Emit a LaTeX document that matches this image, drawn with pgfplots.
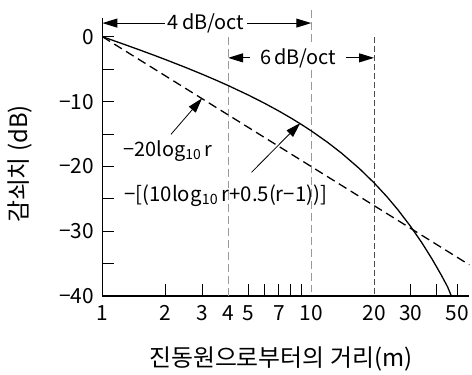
\documentclass[border=0pt]{standalone}
\usepackage{fontspec}
\setmainfont{Noto Sans CJK KR}
\usepackage{pgfplots}
\pgfplotsset{compat=1.18}
\usetikzlibrary{arrows.meta}
\begin{document}
\begin{tikzpicture}
\path (-103pt,-75pt) rectangle (369pt,298pt);
\begin{axis}[
  at={(0,0)}, anchor=south west,
  scale only axis, width=369pt, height=280pt,
  xmode=log, xmin=1, xmax=57.2, ymin=-40, ymax=2.9,
  axis x line*=bottom, axis y line*=left,
  axis line style={line width=1.6pt},
  clip=false,
  tick align=inside,
  major tick length=12pt, minor tick length=12pt,
  tick style={black, line width=1pt},
  xtick={2,3,5,6,7,8,9,30,40,50},
  xticklabels={},
  minor xtick={},
  extra x ticks={1,2,3,4,5,7,10,20,30,50},
  extra x tick labels={1,2,3,4,5,7,10,20,30,50},
  extra x tick style={major tick length=0pt},
  ytick={-40,-30,-20,-10,0},
  yticklabels={−40,−30,−20,−10,0},
  minor ytick={-35,-25,-15,-5},
  ticklabel style={font=\fontsize{21pt}{25pt}\selectfont},
  xticklabel style={yshift=-6pt},
  yticklabel style={xshift=-5pt},
  xlabel={진동원으로부터의 거리(m)},
  ylabel={감쇠치 (dB)},
  label style={font=\fontsize{24pt}{28pt}\selectfont},
  xlabel style={at={(axis description cs:0.486,-0.225)}, anchor=center},
  ylabel style={at={(axis description cs:-0.225,0.475)}, anchor=center},
]
% reference lines
\addplot[color=black!40, line width=1pt, dash pattern=on 8pt off 4pt] coordinates {(4,-0.1) (4,-40)};
\addplot[color=black!40, line width=1pt, dash pattern=on 8pt off 4pt] coordinates {(10,4.1) (10,-40)};
\addplot[color=black!70, line width=1pt, dash pattern=on 6pt off 3pt] coordinates {(20,-0.1) (20,-40)};
% -20 log10 r
\addplot[black, line width=1.3pt, dash pattern=on 9pt off 5pt] coordinates {(1,0) (57.2,-35.15)};
% -[10 log10 r + 0.5(r-1)]
\addplot[black, line width=1.3pt] coordinates {
(1,0) (1.1,-0.464) (1.25,-1.094) (1.5,-2.011) (1.75,-2.805) (2,-3.510)
(2.5,-4.729) (3,-5.771) (3.5,-6.691) (4,-7.521) (5,-8.990) (6,-10.282)
(7,-11.451) (8,-12.531) (9,-13.542) (10,-14.5) (12,-16.292) (14,-17.961)
(17,-20.304) (20,-22.51) (23,-24.617) (26,-26.650) (30,-29.271)
(34,-31.815) (38,-34.298) (42,-36.732) (45,-38.532) (47,-40)};
% annotations
\draw[line width=1pt, {Triangle[length=15pt,width=9pt]}-{Triangle[length=15pt,width=9pt]}] (axis cs:1,2.1) -- (axis cs:10,2.1);
\node[fill=white, inner xsep=3pt, inner ysep=1pt, font=\fontsize{20pt}{24pt}\selectfont] at (axis cs:3.14,2.1) {4\,dB/oct};
\draw[line width=1pt, {Triangle[length=15pt,width=9pt]}-{Triangle[length=15pt,width=9pt]}] (axis cs:4,-3.26) -- (axis cs:20,-3.26);
\node[fill=white, inner xsep=10pt, inner ysep=2pt, font=\fontsize{20pt}{24pt}\selectfont] at (axis cs:8.67,-3.26) {6\,dB/oct};
\draw[line width=0.8pt, -{Triangle[length=15pt,width=9pt]}] (axis cs:2.13,-15.05) -- (axis cs:3.0,-9.5);
\node[font=\fontsize{20pt}{24pt}\selectfont] at (axis cs:2.06,-17.66) {−20log\textsubscript{10}\,r};
\draw[line width=0.8pt, -{Triangle[length=15pt,width=9pt]}] (axis cs:5.18,-20.9) -- (axis cs:8.87,-13.3);
\node[anchor=west, inner sep=0pt, font=\fontsize{20.5pt}{24pt}\selectfont] at (axis cs:1.273,-24.5) {−[(10log\textsubscript{10}\,r+0.5(r−1))]};
\end{axis}
\end{tikzpicture}
\end{document}
